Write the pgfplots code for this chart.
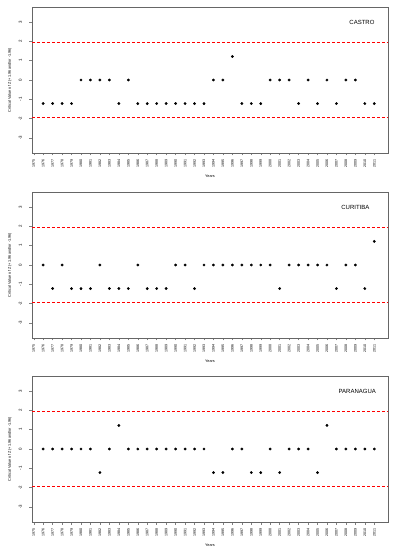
\documentclass[border=0pt]{standalone}
\usepackage{pgfplots}
\pgfplotsset{compat=1.18}
\usepackage{pgfplotstable}
\usepackage{fontspec}
\setmainfont{Liberation Sans}

\definecolor{zred}{RGB}{255,0,0}

\pgfplotstableread{
year z
1976 -1.22
1977 -1.22
1978 -1.22
1979 -1.22
1980 0
1981 0
1982 0
1983 0
1984 -1.22
1985 0
1986 -1.22
1987 -1.22
1988 -1.22
1989 -1.22
1990 -1.22
1991 -1.22
1992 -1.22
1993 -1.22
1994 0
1995 0
1996 1.22
1997 -1.22
1998 -1.22
1999 -1.22
2000 0
2001 0
2002 0
2003 -1.22
2004 0
2005 -1.22
2006 0
2007 -1.22
2008 0
2009 0
2010 -1.22
2011 -1.22
}\castro

\pgfplotstableread{
year z
1976 0
1977 -1.22
1978 0
1979 -1.22
1980 -1.22
1981 -1.22
1982 0
1983 -1.22
1984 -1.22
1985 -1.22
1986 0
1987 -1.22
1988 -1.22
1989 -1.22
1990 0
1991 0
1992 -1.22
1993 0
1994 0
1995 0
1996 0
1997 0
1998 0
1999 0
2000 0
2001 -1.22
2002 0
2003 0
2004 0
2005 0
2006 0
2007 -1.22
2008 0
2009 0
2010 -1.22
2011 1.22
}\curitiba

\pgfplotstableread{
year z
1976 0
1977 0
1978 0
1979 0
1980 0
1981 0
1982 -1.22
1983 0
1984 1.22
1985 0
1986 0
1987 0
1988 0
1989 0
1990 0
1991 0
1992 0
1993 0
1994 -1.22
1995 -1.22
1996 0
1997 0
1998 -1.22
1999 -1.22
2000 0
2001 -1.22
2002 0
2003 0
2004 0
2005 -1.22
2006 1.22
2007 0
2008 0
2009 0
2010 0
2011 0
}\paranagua

\pgfplotsset{
  zpanel/.style={
    scale only axis,
    width=356pt, height=146pt,
    anchor=south west,
    xmin=1974.82, xmax=2012.45,
    ymin=-3.78, ymax=3.78,
    xtick={1975,1976,...,2011},
    ytick={-3,-2,-1,0,1,2,3},
    x tick label style={rotate=90, anchor=east, font=\fontsize{3.6}{4}\selectfont, /pgf/number format/1000 sep={}},
    y tick label style={rotate=90, anchor=south, font=\fontsize{4.4}{5}\selectfont},
    /pgf/number format/assume math mode=true,
    tick align=outside,
    major tick length=2.5pt,
    tick style={line width=0.4pt},
    axis line style={line width=0.5pt, draw=black!60},
    xtick pos=bottom, ytick pos=left,
    xticklabel shift=0.5pt,
    yticklabel shift=4pt,
    xlabel={Years},
    xlabel style={font=\fontsize{3.8}{4}\selectfont, at={(axis description cs:0.5,0)}, yshift=-18pt, anchor=north},
    ylabel={Critical Value of Z (+1.96 and/or -1.96)},
    ylabel style={font=\fontsize{3.8}{4}\selectfont, at={(axis description cs:-0.062,0.5)}, anchor=center, rotate=0},
    clip=false,
  },
  zmark/.style={black, only marks, mark=*, mark size=1.2pt},
  zl/.style={color=zred, line width=1.2pt, dash pattern=on 3.2pt off 1.8pt},
}

\begin{document}
\begin{tikzpicture}
\useasboundingbox (0,0) rectangle (394pt,550pt);

\begin{axis}[zpanel, at={(32pt,397pt)}]
\addplot[zl] coordinates {(1974.82,1.96) (2012.45,1.96)};
\addplot[zl] coordinates {(1974.82,-1.96) (2012.45,-1.96)};
\addplot[zmark] table[x=year,y=z] {\castro};
\node[font=\fontsize{6}{7}\selectfont] at (axis cs:2009.7,3.0) {CASTRO};
\end{axis}

\begin{axis}[zpanel, at={(32pt,212pt)}]
\addplot[zl] coordinates {(1974.82,1.96) (2012.45,1.96)};
\addplot[zl] coordinates {(1974.82,-1.96) (2012.45,-1.96)};
\addplot[zmark] table[x=year,y=z] {\curitiba};
\node[font=\fontsize{6}{7}\selectfont] at (axis cs:2009.0,2.97) {CURITIBA};
\end{axis}

\begin{axis}[zpanel, at={(32pt,28pt)}]
\addplot[zl] coordinates {(1974.82,1.96) (2012.45,1.96)};
\addplot[zl] coordinates {(1974.82,-1.96) (2012.45,-1.96)};
\addplot[zmark] table[x=year,y=z] {\paranagua};
\node[font=\fontsize{6}{7}\selectfont] at (axis cs:2009.2,3.0) {PARANAGUA};
\end{axis}
\end{tikzpicture}
\end{document}
